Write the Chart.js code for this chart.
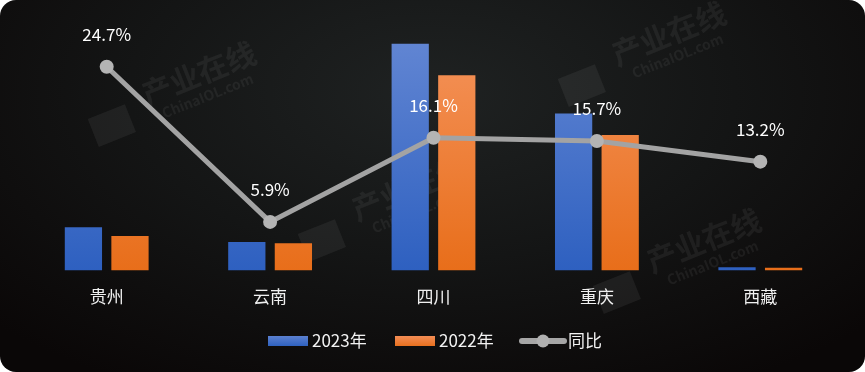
<!DOCTYPE html>
<html>
<head>
<meta charset="utf-8">
<script src="https://cdn.jsdelivr.net/npm/chart.js@4"></script>
<style>
  html, body { margin: 0; padding: 0; background: #fff; }
  #card {
    position: relative;
    width: 865px;
    height: 372px;
    border-radius: 16px;
    overflow: hidden;
    background: radial-gradient(ellipse 70% 90% at 50% 25%, #1f2222 0%, #141515 50%, #0a0707 100%);
  }
  canvas { display: block; }
</style>
</head>
<body>
<div id="card"><canvas id="chart" width="865" height="372"></canvas></div>
<script>
var regions = ["贵州", "云南", "四川", "重庆", "西藏"];
var value2023 = [175, 116, 916, 634, 14];
var value2022 = [140, 110, 789, 548, 12];
var growth = [24.7, 5.9, 16.1, 15.7, 13.2];
var seriesNames = ["2023年", "2022年", "同比"];

var FONT = "'Noto Sans CJK SC', 'Noto Sans', sans-serif";

function barGradient(ctx, top, bottom) {
    var chart = ctx.chart;
    var area = chart.chartArea;
    if (!area) return bottom;
    var g = chart.ctx.createLinearGradient(0, area.top, 0, area.bottom);
    g.addColorStop(0, top);
    g.addColorStop(1, bottom);
    return g;
}

// faint watermark
const watermark = {
    id: "watermark",
    beforeDatasetsDraw(chart) {
        var c = chart.ctx;
        var spots = [[175, 95], [385, 210], [645, 55], [680, 262]];
        c.save();
        spots.forEach(function(p) {
            c.save();
            c.translate(p[0], p[1]);
            c.rotate(-0.38);
            c.fillStyle = "rgba(255,255,255,0.06)";
            c.font = "bold 30px " + FONT;
            c.textAlign = "center";
            c.fillText("产业在线", 30, 0);
            c.font = "bold 14px " + FONT;
            c.fillText("ChinaIOL.com", 30, 18);
            c.fillRect(-90, -10, 40, 30);
            c.restore();
        });
        c.restore();
    }
};

// value labels over the line points + legend
const extras = {
    id: "extras",
    afterDatasetsDraw(chart) {
        var c = chart.ctx;
        var meta = chart.getDatasetMeta(0);
        c.save();
        c.fillStyle = "#ffffff";
        c.font = "17px " + FONT;
        c.textAlign = "center";
        c.textBaseline = "middle";
        meta.data.forEach(function(pt, i) {
            c.fillText(growth[i].toFixed(1) + "%", pt.x, pt.y - 32);
        });

        // legend
        var y = 341;
        c.font = "17px " + FONT;
        c.textAlign = "left";
        var x = 268;
        var cols = [["#5b80d0", "#2f62c0"], ["#f38d55", "#e8701e"]];
        for (var k = 0; k < 2; k++) {
            var g = c.createLinearGradient(0, y - 5, 0, y + 5);
            g.addColorStop(0, cols[k][0]);
            g.addColorStop(1, cols[k][1]);
            c.fillStyle = g;
            c.fillRect(x, y - 5, 40, 10);
            c.fillStyle = "#f2f2f2";
            c.fillText(seriesNames[k], x + 44, y);
            x += 127;
        }
        x = 522;
        c.strokeStyle = "#a6a6a6";
        c.lineWidth = 6;
        c.lineCap = "round";
        c.beginPath();
        c.moveTo(x, y);
        c.lineTo(x + 42, y);
        c.stroke();
        c.fillStyle = "#b0b0b0";
        c.beginPath();
        c.arc(x + 21, y, 6.5, 0, Math.PI * 2);
        c.fill();
        c.fillStyle = "#f2f2f2";
        c.fillText(seriesNames[2], x + 46, y);
        c.restore();
    }
};

new Chart(document.getElementById("chart"), {
    data: {
        labels: regions,
        datasets: [{
            type: "line",
            label: seriesNames[2],
            data: growth,
            yAxisID: "y2",
            borderColor: "#a3a3a3",
            borderWidth: 5,
            backgroundColor: "#b4b4b4",
            pointBackgroundColor: "#b4b4b4",
            pointBorderWidth: 0,
            pointRadius: 7,
            tension: 0,
            order: 0
        }, {
            type: "bar",
            label: seriesNames[0],
            data: value2023,
            yAxisID: "y",
            backgroundColor: function(ctx) { return barGradient(ctx, "#6588d4", "#2e60c0"); },
            categoryPercentage: 0.57,
            barPercentage: 0.8,
            order: 1
        }, {
            type: "bar",
            label: seriesNames[1],
            data: value2022,
            yAxisID: "y",
            backgroundColor: function(ctx) { return barGradient(ctx, "#f5955f", "#e86e1a"); },
            categoryPercentage: 0.57,
            barPercentage: 0.8,
            order: 1
        }]
    },
    options: {
        responsive: false,
        animation: false,
        layout: {
            padding: { left: 25, right: 23, top: 23, bottom: 57 }
        },
        scales: {
            x: {
                grid: { display: false },
                border: { display: false },
                ticks: {
                    color: "#f0f0f0",
                    font: { size: 17, family: FONT },
                    padding: 8
                }
            },
            y: {
                display: false,
                min: 0,
                max: 1000
            },
            y2: {
                display: false,
                min: 0,
                max: 30
            }
        },
        plugins: {
            legend: { display: false },
            tooltip: { enabled: false }
        }
    },
    plugins: [watermark, extras]
});
</script>
</body>
</html>
